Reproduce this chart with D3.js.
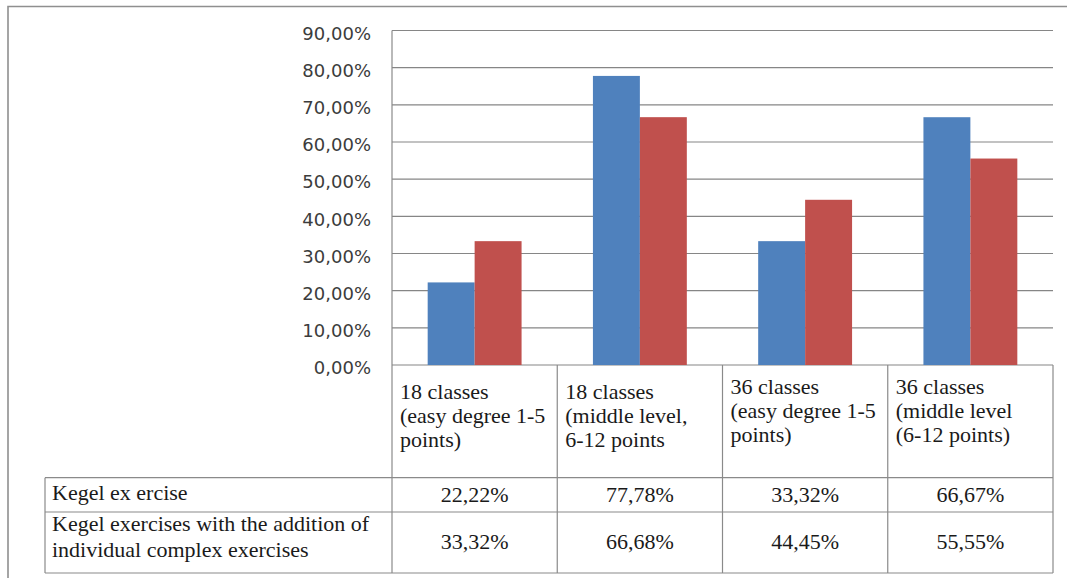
<!DOCTYPE html>
<html>
<head>
<meta charset="utf-8">
<script src="https://cdn.jsdelivr.net/npm/d3@7"></script>
<style>
  html, body { margin: 0; padding: 0; background: #fff; }
  svg { display: block; }
</style>
</head>
<body>
<svg id="chart" width="1067" height="578"></svg>
<script>
// Category labels (one entry per line of the header cell)
const categories = [
  ["18 classes", "(easy degree 1-5", "points)"],
  ["18 classes", "(middle level,", "6-12 points"],
  ["36 classes", "(easy degree 1-5", "points)"],
  ["36 classes", "(middle level", "(6-12 points)"]
];
const categoryKeys = ["c1", "c2", "c3", "c4"];

// Series names (one entry per line of the row label)
const seriesNames = [
  ["Kegel ex ercise"],
  ["Kegel exercises with the addition of", "individual complex exercises"]
];
const seriesKeys = ["kegel", "kegelPlus"];

// Values, in percent, per series and category
const kegelValues = [22.22, 77.78, 33.32, 66.67];
const kegelPlusValues = [33.32, 66.68, 44.45, 55.55];

// Axis ticks, in percent
const yTicks = [0, 10, 20, 30, 40, 50, 60, 70, 80, 90];

const seriesValues = [kegelValues, kegelPlusValues];
const seriesColors = ["#4F81BD", "#C0504D"];

const svg = d3.select("#chart");

// Layout
const plotLeft = 392, plotRight = 1053;
const plotTop = 30.5, plotBottom = 365;
const headerBottom = 477.7, row1Bottom = 512, row2Bottom = 573;
const tableLeft = 45;
const lineColor = "#8a8a8a";

const commaLocale = d3.formatLocale({ decimal: ",", thousands: " ", grouping: [3], currency: ["", ""] });
const pct = commaLocale.format(".2f");

const x = d3.scaleBand().domain(categoryKeys).range([plotLeft, plotRight]).paddingInner(0).paddingOuter(0);
const xs = d3.scaleBand().domain(seriesKeys).range([0, x.bandwidth()]).paddingInner(0).paddingOuter(0.76);
const y = d3.scaleLinear().domain([0, 90]).range([plotBottom, plotTop]);

// Outer frame
svg.append("path")
  .attr("d", `M8,578 V6.5 H1067`)
  .attr("fill", "none").attr("stroke", "#8f8f8f").attr("stroke-width", 1.6);

// Gridlines
svg.append("g").selectAll("line").data(yTicks).join("line")
  .attr("x1", plotLeft).attr("x2", plotRight)
  .attr("y1", d => y(d)).attr("y2", d => y(d))
  .attr("stroke", "#868686").attr("stroke-width", 1.2);

// Value axis
const yAxis = d3.axisLeft(y).tickValues(yTicks).tickSize(0).tickPadding(21)
  .tickFormat(d => pct(d) + "%");
const gy = svg.append("g").attr("transform", `translate(${plotLeft},0)`).call(yAxis);
gy.select(".domain").remove();
gy.selectAll("text")
  .attr("dy", "0.49em")
  .style("font-family", '"DejaVu Sans"')
  .style("font-size", "18px")
  .attr("fill", "#3c3c3c");

// Bars
const groups = svg.append("g").selectAll("g").data(seriesKeys).join("g")
  .attr("fill", (d, i) => seriesColors[i]);
groups.selectAll("rect")
  .data((s, si) => categoryKeys.map((c, ci) => ({ c, s, v: seriesValues[si][ci] })))
  .join("rect")
  .attr("x", d => x(d.c) + xs(d.s))
  .attr("width", xs.bandwidth())
  .attr("y", d => y(d.v))
  .attr("height", d => y(0) - y(d.v));

// Data table lines
const tbl = svg.append("g").attr("stroke", lineColor).attr("stroke-width", 1.2).attr("fill", "none");
tbl.append("line").attr("x1", plotLeft).attr("x2", plotLeft).attr("y1", plotTop).attr("y2", row2Bottom);
categoryKeys.forEach(c => {
  const xr = x(c) + x.bandwidth();
  tbl.append("line").attr("x1", xr).attr("x2", xr).attr("y1", plotBottom).attr("y2", row2Bottom);
});
tbl.append("line").attr("x1", tableLeft).attr("x2", tableLeft).attr("y1", headerBottom).attr("y2", row2Bottom);
[headerBottom, row1Bottom, row2Bottom].forEach(yy => {
  tbl.append("line").attr("x1", tableLeft).attr("x2", plotRight).attr("y1", yy).attr("y2", yy);
});

// Table text
const headerShift = [0, 0, -5, -5];
const hdr = svg.append("g");
function tableText(xPos, yPos, str, anchor) {
  return hdr.append("text")
    .attr("x", xPos).attr("y", yPos)
    .attr("text-anchor", anchor || "start")
    .style("font-family", '"Liberation Serif"')
    .style("font-size", "22px")
    .style("fill", "#1a1a1a")
    .text(str);
}

categories.forEach((lines, ci) => {
  lines.forEach((ln, li) => {
    tableText(x(categoryKeys[ci]) + 8, 399 + headerShift[ci] + li * 24, ln);
  });
});

const rowBaselines = [[500], [531, 557]];
const valueBaselines = [502, 549];
seriesNames.forEach((lines, si) => {
  lines.forEach((ln, li) => tableText(tableLeft + 7, rowBaselines[si][li], ln));
  seriesValues[si].forEach((v, ci) => {
    tableText(x(categoryKeys[ci]) + x.bandwidth() / 2, valueBaselines[si], pct(v) + "%", "middle");
  });
});
</script>
</body>
</html>
